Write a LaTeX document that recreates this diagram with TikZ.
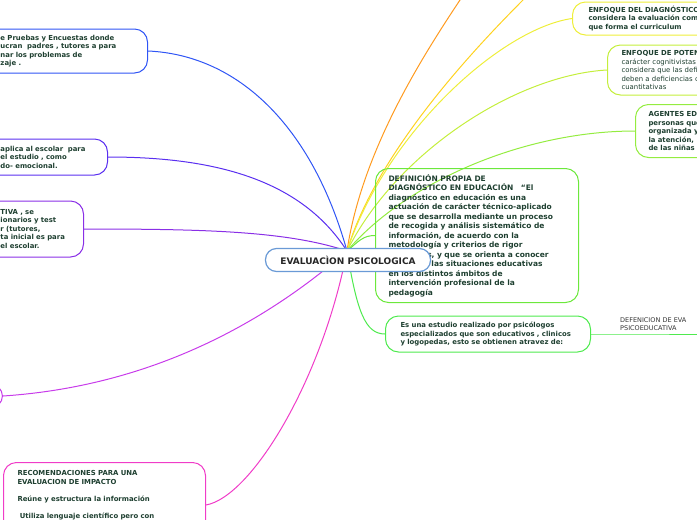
\documentclass[tikz,border=0pt]{standalone}
\usepackage{fontspec}
\setmainfont{DejaVu Sans}
\usepackage{tikz}
\usetikzlibrary{positioning}
\definecolor{txtgreen}{HTML}{1E3F30}
\definecolor{centblue}{HTML}{6A9AD6}
\definecolor{mmblue}{HTML}{2F55F5}
\definecolor{mmindigo}{HTML}{5A2FF0}
\definecolor{mmpurple}{HTML}{8A2FE6}
\definecolor{mmmagenta}{HTML}{C83CEA}
\definecolor{mmpink}{HTML}{F03CC8}
\definecolor{mmorange}{HTML}{FF9A1F}
\definecolor{mmyellow}{HTML}{FFD21F}
\definecolor{mmlemon}{HTML}{EEEE3A}
\definecolor{mmlime}{HTML}{C4EE3C}
\definecolor{mmgreen}{HTML}{94EC40}
\definecolor{mmgreenb}{HTML}{6CE83C}
\definecolor{mmgreenc}{HTML}{4EEA4E}
\pgfdeclarelayer{bg}
\pgfdeclarelayer{fg}
\pgfsetlayers{bg,main,fg}

\begin{document}
\begin{tikzpicture}[x=1pt,y=-1pt,
  bubble/.style={draw=#1,line width=1pt,rounded corners=13pt,align=left,text=txtgreen,
    font=\bfseries\fontsize{6.9}{8.5}\selectfont,inner xsep=14pt},
  link/.style={draw=#1,line width=1pt}]
\path[use as bounding box] (0,0) rectangle (697,520);

% centre
\begin{pgfonlayer}{fg}
\node[draw=centblue,line width=1.2pt,rounded corners=11pt,fill=white,minimum width=165pt,minimum height=23pt,
  font=\bfseries\fontsize{9}{10}\selectfont,text=black!85] (eval) at (348,260) {EVALUACÌON PSICOLOGICA};
\end{pgfonlayer}
\coordinate (hub) at (347,251);

% left side
\node[bubble=mmblue,anchor=west,minimum height=44pt,text width=133pt] (pruebas) at (-14,51)
  {e Pruebas y Encuestas donde\\ucran\ \ padres , tutores a para\\nar los problemas de\\zaje .};
\node[bubble=mmindigo,anchor=west,minimum height=36pt,text width=93pt] (escolar) at (-14,157)
  {aplica al escolar\ \ para\\el estudio , como\\do- emocional.};
\node[bubble=mmpurple,anchor=west,minimum height=56pt,text width=69pt] (tests) at (-14,229)
  {TIVA , se\\ionarios y test\\r (tutores,\\ta inicial es para\\el escolar.};
\node[bubble=mmmagenta,anchor=east,minimum width=40pt,minimum height=25pt] (oculto) at (3,396) {};
\node[bubble=mmpink,anchor=north west,inner ysep=8pt,text width=174pt] (recom) at (3,462)
  {RECOMENDACIONES PARA UNA\\EVALUACION DE IMPACTO\\[8.5pt]Reúne y estructura la información\\[8.5pt]\ Utiliza lenguaje científico pero con\\\ };

% right side
\coordinate (topA) at (462,-3);
\coordinate (topB) at (526,-3);
\node[bubble=mmlemon,anchor=west,minimum height=33pt,text width=150pt,inner xsep=16pt] (diag) at (572,18.5)
  {ENFOQUE DEL DIAGNÓSTICO\\considera la evaluación com\\que forma el curriculum};
\node[bubble=mmlime,anchor=west,minimum height=50pt,text width=150pt] (poten) at (607,70)
  {ENFOQUE DE POTEN\\\mdseries carácter cognitivistas\\considera que las defi\\deben a deficiencias c\\cuantitativas};
\node[bubble=mmgreen,anchor=west,minimum height=53pt,text width=150pt,inner xsep=13pt] (agentes) at (635,131)
  {AGENTES ED\\personas que\\organizada y\\la atención,\\de las niñas};
\node[bubble=mmgreenb,anchor=north west,minimum height=134pt,text width=177pt,inner xsep=13pt,
  font=\bfseries\fontsize{7.5}{9.5}\selectfont] (defi) at (375,168)
  {DEFINICIÓN PROPIA DE\\DIAGNÓSTICO EN EDUCACIÓN\ \ \ “El\\diagnóstico en educación es una\\actuación de carácter técnico-aplicado\\que se desarrolla mediante un proceso\\de recogida y análisis sistemático de\\información, de acuerdo con la\\metodología y criterios de rigor\\científicos, y que se orienta a conocer\\y mejorar las situaciones educativas\\en los distintos ámbitos de\\intervención profesional de la\\pedagogía};
\node[bubble=mmgreenc,anchor=west,minimum height=36pt,text width=175pt,inner xsep=15pt] (estudio) at (385,334)
  {Es una estudio realizado por psicólogos\\especializados que son educativos , clinicos\\y logopedas, esto se obtienen atravez de:};
\node[anchor=south west,align=left,text width=100pt,inner xsep=15pt,inner ysep=3pt,
  font=\fontsize{6.5}{8.5}\selectfont,text=black!80] (psico) at (605,334)
  {DEFENICION DE EVA\\PSICOEDUCATIVA};

% connectors
\begin{pgfonlayer}{bg}
\draw[link=mmblue] (hub) .. controls +(-35,-125) and +(90,4) .. (pruebas.east);
\draw[link=mmindigo] (hub) .. controls +(-45,-70) and +(110,0) .. (escolar.east);
\draw[link=mmpurple] (hub) .. controls +(-60,-20) and +(120,0) .. (tests.east);
\draw[link=mmmagenta] (hub) .. controls +(-80,70) and +(150,-10) .. (oculto.east);
\draw[link=mmpink] (hub) .. controls +(-25,130) and +(45,-8) .. (recom.east |- 0,505);
\draw[link=mmorange] (hub) .. controls +(15,-100) and +(-40,60) .. (topA);
\draw[link=mmyellow] (hub) .. controls +(30,-100) and +(-50,50) .. (topB);
\draw[link=mmlemon] (hub) .. controls +(40,-120) and +(-70,10) .. (diag.west);
\draw[link=mmlime] (hub) .. controls +(50,-100) and +(-90,5) .. (poten.west);
\draw[link=mmgreen] (hub) .. controls +(60,-70) and +(-110,0) .. (agentes.west);
\draw[link=mmgreenb] (hub) .. controls +(12,-10) and +(-12,0) .. (defi.west);
\draw[link=mmgreenc] (hub) .. controls +(10,60) and +(-20,0) .. (estudio.west);
\draw[link=mmgreenc] (estudio.east) -- (psico.south west) -- (psico.south east);
\end{pgfonlayer}
\end{tikzpicture}
\end{document}
